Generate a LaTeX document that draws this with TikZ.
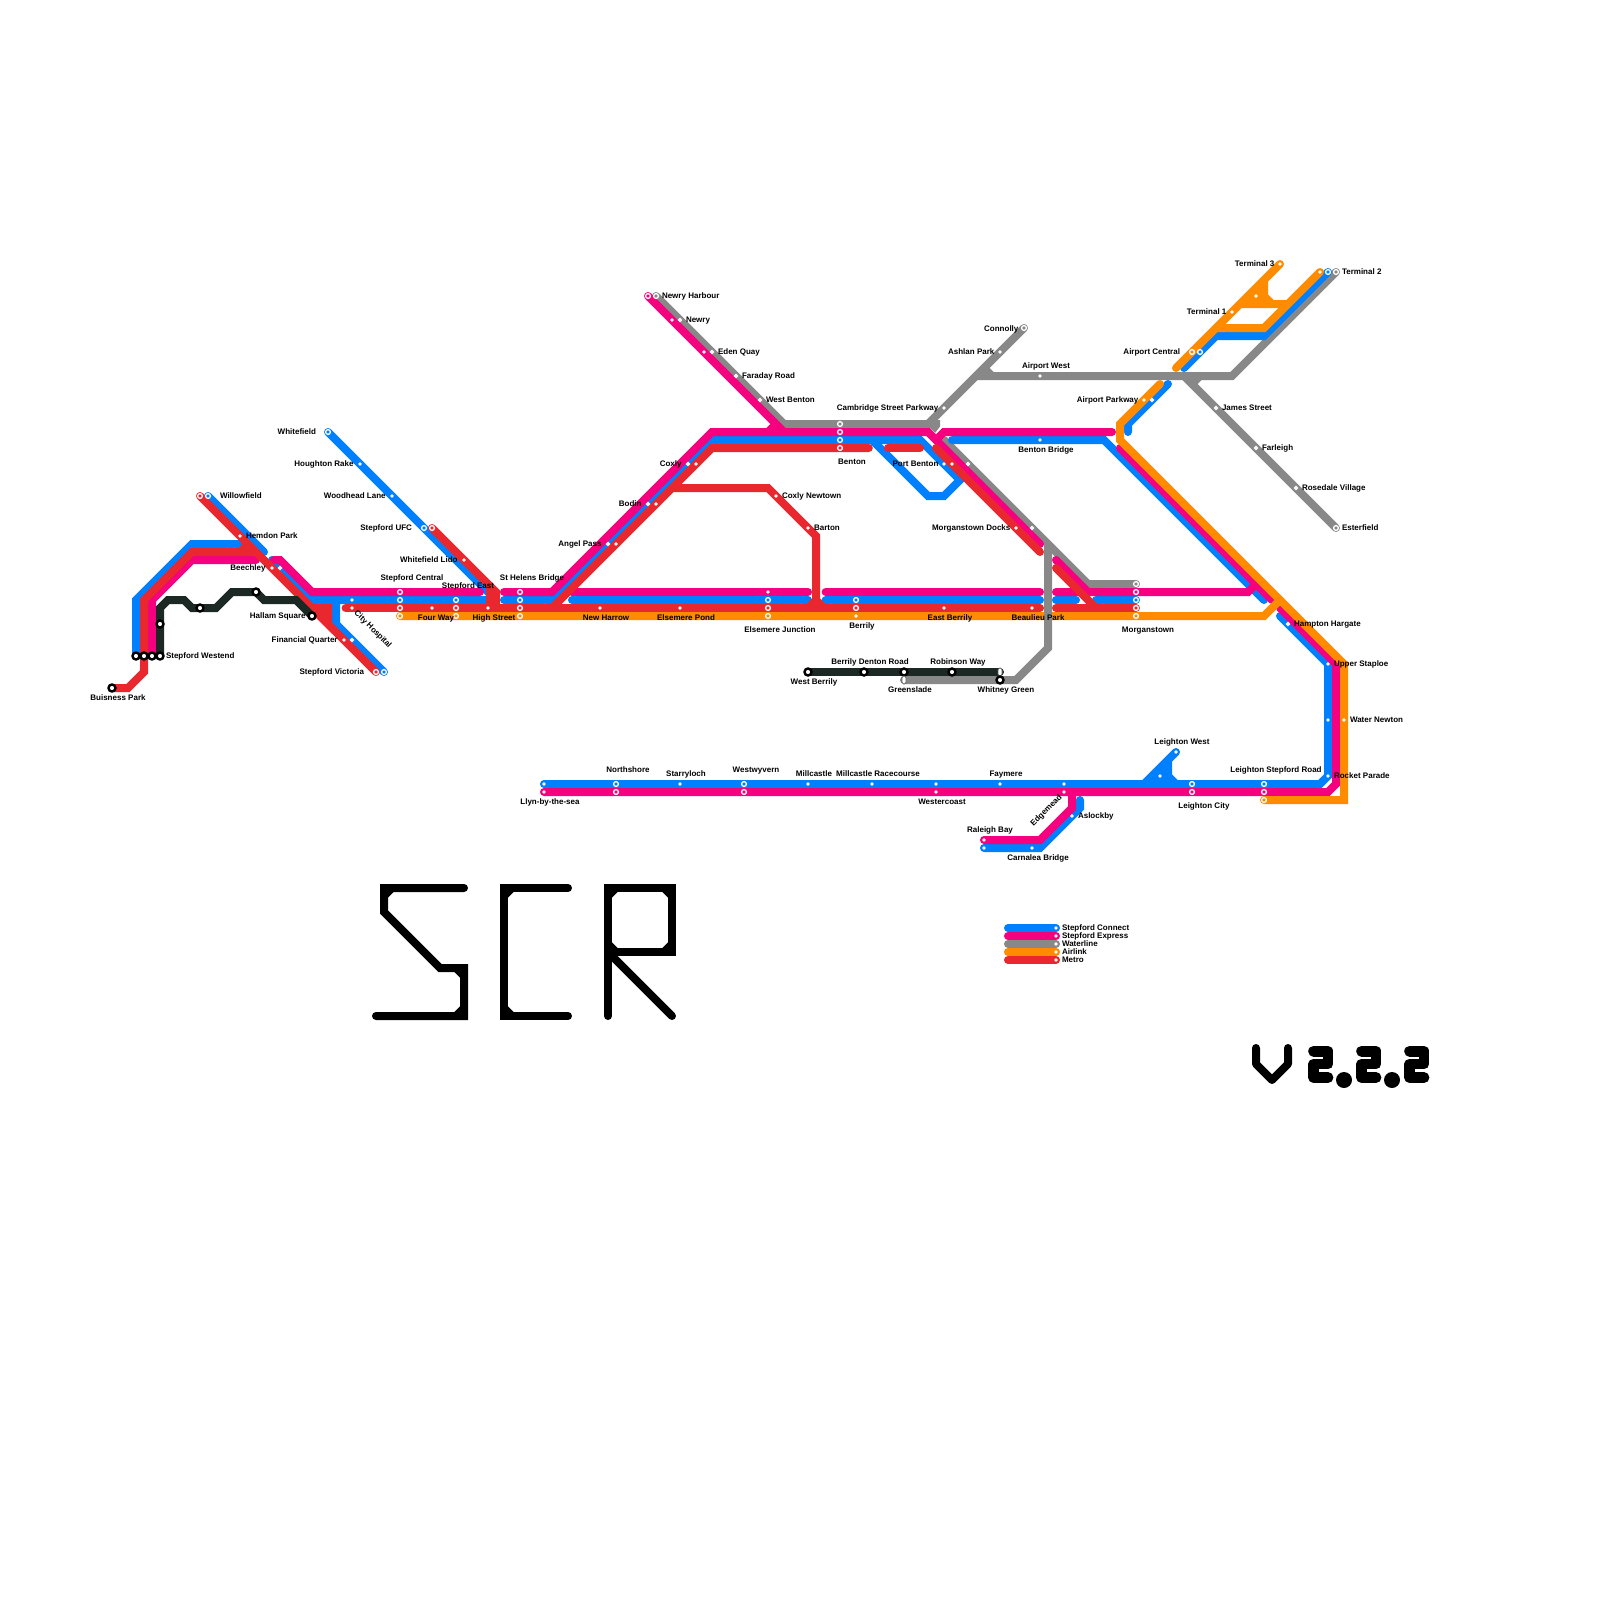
\documentclass[tikz,border=0pt]{standalone}
\usepackage{fontspec}
\setmainfont{Liberation Sans}
\usepackage{xcolor}
\usetikzlibrary{backgrounds}
\definecolor{connectblue}{RGB}{0, 128, 255}
\definecolor{expresspink}{RGB}{245, 0, 127}
\definecolor{watergray}{RGB}{136, 136, 136}
\definecolor{airorange}{RGB}{255, 140, 0}
\definecolor{metrored}{RGB}{232, 40, 46}
\definecolor{hallamdark}{RGB}{28, 40, 35}

\begin{document}
\begin{tikzpicture}[x=0.2cm, y=-0.2cm,
    railline/.style={line width=0.2cm, line cap=round},
    connectline/.style={railline, draw=connectblue},
    expressline/.style={railline, draw=expresspink},
    waterline/.style={railline, draw=watergray},
    airline/.style={railline, draw=airorange},
    metroline/.style={railline, draw=metrored},
    hallamline/.style={railline, draw=hallamdark},
    logoline/.style={line width=0.2cm, line cap=round, draw=black},
    stopdot/.style={circle, fill=white, inner sep=0, outer sep=0, minimum size=0.09cm},
    stopring/.style={circle, draw=white, line width=0.033cm, inner sep=0, outer sep=0, minimum size=0.12cm},
    smallring/.style={circle, draw=white, line width=0.03cm, inner sep=0, outer sep=0, minimum size=0.075cm},
    blackring/.style={circle, draw=black, fill=white, line width=0.06cm, inner sep=0, outer sep=0, minimum size=0.175cm},
    capsule/.style={rectangle, rounded corners=0.04cm, draw=black!65, fill=white, line width=0.02cm, inner sep=0, outer sep=0, minimum width=0.1cm, minimum height=0.2cm},
    stationlabel/.style={inner sep=0, outer sep=0, yshift=0.025cm, text=black, font=\fontsize{5.7}{6}\selectfont\bfseries, text height=1.5ex, text depth=0.3ex}]

\useasboundingbox (0,0) rectangle (200,200);

% stops on the west side
\node[blackring] (westb) at (17,82) {};
\node[blackring] (westr) at (18,82) {};
\node[blackring] (westp) at (19,82) {};
\node[blackring] (westk) at (20,82) {};
\node[blackring] (buisness) at (14,86) {};
\node[blackring] (darkup) at (20,78) {};
\node[blackring] (darkmid) at (25,76) {};
\node[blackring] (darktop) at (32,74) {};
\node[blackring] (hallam) at (39,77) {};
\node[stopring] (whitefield) at (41,54) {};
\node[stopdot] (houghton) at (45,58) {};
\node[stopdot] (woodhead) at (49,62) {};
\node[stopring] (willowr) at (25,62) {};
\node[stopring] (willowb) at (26,62) {};
\node[stopdot] (hemdon) at (30,67) {};
\node[stopdot] (beechleyr) at (34,71) {};
\node[smallring] (beechleyb) at (35,71) {};
\node[stopdot] (hospitalb) at (44,75) {};
\node[stopdot] (hospitalr) at (44,76) {};
\node[stopdot] (financialr) at (43,80) {};
\node[smallring] (financialb) at (44,80) {};
\node[stopring] (victoriar) at (47,84) {};
\node[stopring] (victoriab) at (48,84) {};
\node[stopring] (ufcb) at (53,66) {};
\node[stopring] (ufcr) at (54,66) {};
\node[stopdot] (lido) at (58,70) {};

% stops on the main corridor
\node[stopring] (centralp) at (50,74) {};
\node[stopring] (centralb) at (50,75) {};
\node[stopring] (centralr) at (50,76) {};
\node[stopring] (centrala) at (50,77) {};
\node[stopdot] (fourway) at (54,76) {};
\node[stopring] (eastb) at (57,75) {};
\node[stopring] (eastr) at (57,76) {};
\node[stopring] (easta) at (57,77) {};
\node[stopdot] (highst) at (61,76) {};
\node[stopring] (helensp) at (65,74) {};
\node[stopring] (helensb) at (65,75) {};
\node[stopring] (helensr) at (65,76) {};
\node[stopring] (helensa) at (65,77) {};
\node[stopdot] (harrow) at (75,76) {};
\node[stopdot] (pond) at (85,76) {};
\node[stopdot] (junctionp) at (96,74) {};
\node[stopring] (junctionb) at (96,75) {};
\node[stopring] (junctionr) at (96,76) {};
\node[stopring] (junctiona) at (96,77) {};
\node[stopring] (berrilyb) at (107,75) {};
\node[stopring] (berrilyr) at (107,76) {};
\node[stopdot] (berrilya) at (107,77) {};
\node[stopdot] (eastberrily) at (118,76) {};
\node[stopdot] (beaulieu) at (129,76) {};
\node[stopring] (morgang) at (142,73) {};
\node[stopring] (morganp) at (142,74) {};
\node[stopring] (morganb) at (142,75) {};
\node[stopring] (morganr) at (142,76) {};
\node[stopring] (morgana) at (142,77) {};

% stops on the diagonals and the north
\node[smallring] (angelb) at (76,68) {};
\node[stopdot] (angelr) at (77,68) {};
\node[smallring] (bodinb) at (81,63) {};
\node[stopdot] (bodinr) at (82,63) {};
\node[smallring] (coxlyb) at (86,58) {};
\node[stopdot] (coxlyr) at (87,58) {};
\node[stopdot] (newtown) at (97,62) {};
\node[stopdot] (barton) at (101,66) {};
\node[stopring] (harbourp) at (81,37) {};
\node[stopring] (harbourg) at (82,37) {};
\node[stopdot] (newryp) at (84,40) {};
\node[smallring] (newryg) at (85,40) {};
\node[stopdot] (edenp) at (88,44) {};
\node[smallring] (edeng) at (89,44) {};
\node[smallring] (faraday) at (92,47) {};
\node[smallring] (westbenton) at (95,50) {};
\node[stopring] (bentong) at (105,53) {};
\node[stopring] (bentonp) at (105,54) {};
\node[stopring] (bentonb) at (105,55) {};
\node[stopring] (bentonr) at (105,56) {};
\node[stopdot] (cambridge) at (118,51) {};
\node[stopdot] (ashlan) at (125,44) {};
\node[stopring] (connolly) at (128,41) {};
\node[stopdot] (airwest) at (130,47) {};
\node[stopdot] (bbridge) at (130,55) {};
\node[stopdot] (portb) at (118,58) {};
\node[stopdot] (portr) at (119,58) {};
\node[smallring] (portg) at (121,58) {};
\node[stopdot] (docksr) at (127,66) {};
\node[smallring] (docksg) at (129,66) {};
\node[stopdot] (parkwaya) at (143,50) {};
\node[smallring] (parkwayb) at (144,50) {};
\node[stopring] (centrala2) at (149,44) {};
\node[stopring] (centralb2) at (150,44) {};
\node[stopdot] (terminal1) at (154,39) {};
\node[stopdot] (apron) at (157,37) {};
\node[stopdot] (terminal3) at (160,33) {};
\node[stopdot] (terminal2a) at (165,34) {};
\node[stopring] (terminal2b) at (166,34) {};
\node[stopring] (terminal2g) at (167,34) {};
\node[smallring] (james) at (152,51) {};
\node[smallring] (farleigh) at (157,56) {};
\node[smallring] (rosedale) at (162,61) {};
\node[stopring] (esterfield) at (167,66) {};
\node[smallring] (hampton) at (161,78) {};
\node[stopdot] (upper) at (166,83) {};
\node[stopdot] (newtonb) at (166,90) {};
\node[stopdot] (newtona) at (168,90) {};
\node[stopdot] (rocket) at (166,97) {};

% stops on the Berrily shuttle
\node[blackring] (wberrily) at (101,84) {};
\node[blackring] (denton) at (108,84) {};
\node[blackring] (greenk) at (113,84) {};
\node[capsule] (greeng) at (113,85) {};
\node[blackring] (robinson) at (119,84) {};
\node[capsule] (whitneyk) at (125,84) {};
\node[blackring] (whitneyg) at (125,85) {};

% stops on the south line
\node[stopdot] (llynb) at (68,98) {};
\node[stopdot] (llynp) at (68,99) {};
\node[stopring] (northb) at (77,98) {};
\node[stopring] (northp) at (77,99) {};
\node[stopdot] (starry) at (85,98) {};
\node[stopring] (wyvernb) at (93,98) {};
\node[stopring] (wyvernp) at (93,99) {};
\node[stopdot] (millcastle) at (101,98) {};
\node[stopdot] (racecourse) at (109,98) {};
\node[stopdot] (coastb) at (117,98) {};
\node[stopdot] (coastp) at (117,99) {};
\node[stopdot] (faymere) at (125,98) {};
\node[stopdot] (edgeb) at (133,98) {};
\node[stopdot] (edgep) at (133,99) {};
\node[stopdot] (aslockby) at (134,102) {};
\node[stopdot] (raleighp) at (123,105) {};
\node[stopdot] (raleighb) at (123,106) {};
\node[stopdot] (carnalea) at (129,106) {};
\node[stopdot] (lwest) at (147,94) {};
\node[stopdot] (lfork) at (145,97) {};
\node[stopring] (lcityb) at (149,98) {};
\node[stopring] (lcityp) at (149,99) {};
\node[stopring] (lroadb) at (158,98) {};
\node[stopring] (lroadp) at (158,99) {};
\node[stopring] (lroada) at (158,100) {};

% key
\node[stopdot] (keyb) at (132,116) {};
\node[stopdot] (keyp) at (132,117) {};
\node[stopdot] (keyg) at (132,118) {};
\node[stopdot] (keya) at (132,119) {};
\node[stopdot] (keyr) at (132,120) {};
\coordinate (keyb0) at (126,116);
\coordinate (keyp0) at (126,117);
\coordinate (keyg0) at (126,118);
\coordinate (keya0) at (126,119);
\coordinate (keyr0) at (126,120);

% labels
\node[stationlabel, anchor=east] (twhitefield) at (39.5,53.9) {Whitefield};
\node[stationlabel, anchor=east] (thoughton) at (44.2,57.9) {Houghton Rake};
\node[stationlabel, anchor=east] (twoodhead) at (48.2,61.9) {Woodhead Lane};
\node[stationlabel, anchor=east] (tufc) at (51.5,65.9) {Stepford UFC};
\node[stationlabel, anchor=west] (twillow) at (27.5,61.9) {Willowfield};
\node[stationlabel, anchor=west] (themdon) at (30.75,66.9) {Hemdon Park};
\node[stationlabel, anchor=east] (tbeechley) at (33.2,70.9) {Beechley};
\node[stationlabel, anchor=west] (twest) at (20.75,81.9) {Stepford Westend};
\node[stationlabel] (tbuisness) at (14.75,87.1) {Buisness Park};
\node[stationlabel, anchor=east] (thallam) at (38.2,76.9) {Hallam Square};
\node[stationlabel, anchor=east] (tfinancial) at (42.2,79.9) {Financial Quarter};
\node[stationlabel, anchor=east] (tvictoria) at (45.5,83.9) {Stepford Victoria};
\node[stationlabel, rotate=-45] (thospital) at (46.8,78.6) {City Hospital};
\node[stationlabel] (tcentral) at (51.5,72.1) {Stepford Central};
\node[stationlabel] (teast) at (58.5,73.1) {Stepford East};
\node[stationlabel, anchor=east] (tlido) at (57.2,69.9) {Whitefield Lido};
\node[stationlabel] (tfourway) at (54.5,77.1) {Four Way};
\node[stationlabel] (thighst) at (61.75,77.1) {High Street};
\node[stationlabel] (thelens) at (66.5,72.1) {St Helens Bridge};
\node[stationlabel] (tharrow) at (75.75,77.1) {New Harrow};
\node[stationlabel, anchor=east] (tangel) at (75.2,67.9) {Angel Pass};
\node[stationlabel, anchor=east] (tbodin) at (80.2,62.9) {Bodin};
\node[stationlabel, anchor=east] (tcoxly) at (85.2,57.9) {Coxly};
\node[stationlabel, anchor=west] (tnewtown) at (97.75,61.9) {Coxly Newtown};
\node[stationlabel, anchor=west] (tbarton) at (101.75,65.9) {Barton};
\node[stationlabel, anchor=west] (tharbour) at (82.75,36.9) {Newry Harbour};
\node[stationlabel, anchor=west] (tnewry) at (85.75,39.9) {Newry};
\node[stationlabel, anchor=west] (teden) at (89.75,43.9) {Eden Quay};
\node[stationlabel, anchor=west] (tfaraday) at (92.75,46.9) {Faraday Road};
\node[stationlabel, anchor=west] (twestbenton) at (95.75,49.9) {West Benton};
\node[stationlabel, anchor=east] (tcambridge) at (117.3,50.9) {Cambridge Street Parkway};
\node[stationlabel] (tbenton) at (106.5,57.6) {Benton};
\node[stationlabel, anchor=east] (tport) at (117.3,57.9) {Port Benton};
\node[stationlabel, anchor=east] (tdocks) at (126.3,65.9) {Morganstown Docks};
\node[stationlabel] (tpond) at (85.75,77.1) {Elsemere Pond};
\node[stationlabel] (tjunction) at (97.5,78.6) {Elsemere Junction};
\node[stationlabel] (tberrily) at (107.75,78.1) {Berrily};
\node[stationlabel] (teastberrily) at (118.75,77.1) {East Berrily};
\node[stationlabel] (tbeaulieu) at (129.75,77.1) {Beaulieu Park};
\node[stationlabel] (tbbridge) at (130.75,56.1) {Benton Bridge};
\node[stationlabel] (tmorgan) at (143.5,78.6) {Morganstown};
\node[stationlabel] (trobinson) at (119.75,82.6) {Robinson Way};
\node[stationlabel] (twhitney) at (125.75,86.1) {Whitney Green};
\node[stationlabel] (tgreen) at (113.75,86.1) {Greenslade};
\node[stationlabel] (tdenton) at (108.75,82.6) {Berrily Denton Road};
\node[stationlabel] (twberrily) at (101.75,85.1) {West Berrily};
\node[stationlabel, anchor=east] (tterminal3) at (159.3,32.9) {Terminal 3};
\node[stationlabel, anchor=west] (tterminal2) at (167.75,33.9) {Terminal 2};
\node[stationlabel, anchor=east] (tterminal1) at (153.3,38.9) {Terminal 1};
\node[stationlabel, anchor=east] (tcentral2) at (147.5,43.9) {Airport Central};
\node[stationlabel, anchor=east] (tparkway) at (142.3,49.9) {Airport Parkway};
\node[stationlabel, anchor=east] (tconnolly) at (127.3,41) {Connolly};
\node[stationlabel, anchor=east] (tashlan) at (124.3,43.9) {Ashlan Park};
\node[stationlabel] (tairwest) at (130.75,45.6) {Airport West};
\node[stationlabel, anchor=west] (tjames) at (152.75,50.9) {James Street};
\node[stationlabel, anchor=west] (tfarleigh) at (157.75,55.9) {Farleigh};
\node[stationlabel, anchor=west] (trosedale) at (162.75,60.9) {Rosedale Village};
\node[stationlabel, anchor=west] (testerfield) at (167.75,65.9) {Esterfield};
\node[stationlabel, anchor=west] (thampton) at (161.75,77.9) {Hampton Hargate};
\node[stationlabel, anchor=west] (tupper) at (166.75,82.9) {Upper Staploe};
\node[stationlabel, anchor=west] (twater) at (168.75,89.9) {Water Newton};
\node[stationlabel, anchor=west] (trocket) at (166.75,96.9) {Rocket Parade};
\node[stationlabel] (tlwest) at (147.75,92.6) {Leighton West};
\node[stationlabel] (tlroad) at (159.5,96.1) {Leighton Stepford Road};
\node[stationlabel] (tlcity) at (150.5,100.6) {Leighton City};
\node[stationlabel] (tfaymere) at (125.75,96.6) {Faymere};
\node[stationlabel, rotate=45] (tedge) at (130.6,101.25) {Edgemead};
\node[stationlabel, anchor=west] (taslockby) at (134.75,101.9) {Aslockby};
\node[stationlabel] (traleigh) at (123.75,103.6) {Raleigh Bay};
\node[stationlabel] (tcarnalea) at (129.75,107.1) {Carnalea Bridge};
\node[stationlabel] (tnorth) at (78.5,96.1) {Northshore};
\node[stationlabel] (tstarry) at (85.75,96.6) {Starryloch};
\node[stationlabel] (twyvern) at (94.5,96.1) {Westwyvern};
\node[stationlabel] (tmillcastle) at (101.75,96.6) {Millcastle};
\node[stationlabel] (trace) at (109.75,96.6) {Millcastle Racecourse};
\node[stationlabel] (tcoast) at (117.75,100.1) {Westercoast};
\node[stationlabel] (tllyn) at (68.75,100.1) {Llyn-by-the-sea};
\node[stationlabel, anchor=west] (tkeyb) at (132.75,115.9) {Stepford Connect};
\node[stationlabel, anchor=west] (tkeyp) at (132.75,116.9) {Stepford Express};
\node[stationlabel, anchor=west] (tkeyg) at (132.75,117.9) {Waterline};
\node[stationlabel, anchor=west] (tkeya) at (132.75,118.9) {Airlink};
\node[stationlabel, anchor=west] (tkeyr) at (132.75,119.9) {Metro};

\begin{scope}[on background layer]
% Waterline
\draw[waterline] (harbourg.center) -- (98,53) -- (116,53) -- (connolly.center);
\draw[waterline] (122,47) -- (154,47) -- (terminal2g.center);
\draw[waterline] (148,47) -- (esterfield.center);
\draw[waterline] (123,46) -- (124,47);
\draw[waterline] (150,47) -- (149,48);
\draw[waterline] (118,55) -- (136,73) -- (morgang.center);

% Stepford Connect
\draw[connectline] (westb.center) -- (17,75) -- (24,68) -- (32,68);
\draw[connectline] (willowb.center) -- (33,69);
\draw[connectline] (34,70) -- (39,75) -- (61,75);
\draw[connectline] (42,75) -- (42,78) -- (victoriab.center);
\draw[connectline] (whitefield.center) -- (62,75);
\draw[connectline] (63,75) -- (69,75) -- (89,55) -- (115,55) -- (120,60);
\draw[connectline] (71.5,75) -- (101,75);
\draw[connectline] (103.2,75) -- (130,75);
\draw[connectline] (132,75) -- (134.5,75);
\draw[connectline] (137,75) -- (morganb.center);
\draw[connectline] (109,55) -- (116,62) -- (118,62) -- (121,59);
\draw[connectline] (119,55) -- (138,55) -- (158,75);
\draw[connectline] (160,77) -- (upper.center) -- (rocket.center) -- (165,98) -- (llynb.center);
\draw[connectline, fill=connectblue, line join=round] (143,98) -- (lwest.center) -- (146,95) -- (146,97) -- (147,98) -- cycle;
\draw[connectline] (146,48) -- (141,53) -- (141,54);
\draw[connectline] (148,46) -- (152,42) -- (158,42) -- (terminal2b.center);
\draw[connectline] (raleighb.center) -- (130,106) -- (135,101) -- (135,100);
\draw[connectline] (keyb0) -- (keyb.center);

% Stepford Express
\draw[expressline] (westp.center) -- (19,75) -- (24,70) -- (32,70);
\draw[expressline] (34.25,70) -- (35,70) -- (39,74) -- (60,74);
\draw[expressline] (63,74) -- (69,74) -- (89,54) -- (116,54) -- (130,68);
\draw[expressline] (71.5,74) -- (101,74);
\draw[expressline] (103.2,74) -- (130,74);
\draw[expressline] (132,74) -- (156,74) -- (157,73);
\draw[expressline] (132,70) -- (136,74);
\draw[expressline] (117,55) -- (118,54) -- (139,54);
\draw[expressline] (140,56) -- (159,75);
\draw[expressline] (160,76) -- (167,83) -- (167,98) -- (166,99) -- (llynp.center);
\draw[expressline] (raleighp.center) -- (130,105) -- (134,101) -- (134,99);
\draw[expressline] (harbourp.center) -- (98,54);
\draw[expressline] (96,54) -- (97,53);
\draw[expressline] (keyp0) -- (keyp.center);
\draw[waterline] (keyg0) -- (keyg.center);
\fill[watergray] (115.8,52.5) -- (117.5,52.5) -- (117.5,53.3) -- (116.9,54.1) -- (116,53.3) -- cycle;

% Airlink
\draw[airline] (centrala.center) -- (158,77) -- (160,75);
\draw[airline] (145,48) -- (140,53) -- (140,55) -- (168,83) -- (168,100) -- (lroada.center);
\draw[airline] (147,46) -- (terminal3.center);
\draw[airline] (152,41) -- (158,41) -- (terminal2a.center);
\draw[airline] (155,38) -- (161,38);
\draw[airline, fill=airorange] (156,38) -- (158,36) -- (158,37) -- (159,38) -- cycle;
\draw[airline] (keya0) -- (keya.center);

% Metro
\draw[metroline] (buisness.center) -- (16,86) -- (18,84) -- (18,75) -- (24,69) -- (32,69);
\draw[metroline] (30,69) -- (31,68);
\draw[metroline] (willowr.center) -- (victoriar.center);
\draw[metroline, fill=metrored] (39,76) -- (41,76) -- (41,78) -- cycle;
\draw[metroline] (43.2,76) -- (130,76);
\draw[metroline] (ufcr.center) -- (62,74) -- (62,76);
\draw[metroline] (61.3,73.3) -- (61.3,76);
\draw[metroline] (132,76) -- (morganr.center);
\draw[metroline] (69,76) -- (89,56) -- (108.6,56);
\draw[metroline] (111,56) -- (115,56);
\draw[metroline] (117,56) -- (130,69);
\draw[metroline] (132,71) -- (137,76);
\draw[metroline] (84,61) -- (96,61) -- (102,67) -- (102,76);
\draw[metroline] (101,76) -- (102,75) -- (103,76);
\draw[metroline] (keyr0) -- (keyr.center);

% Waterline branch and the dark shuttle go over the others
\draw[waterline] (131,68) -- (131,81) -- (127,85) -- (greeng.center);
\draw[hallamline] (westk.center) -- (20,76) -- (21,75) -- (23,75) -- (24,76) -- (27,76) -- (29,74) -- (32,74) -- (33,75) -- (37,75) -- (hallam.center);
\draw[hallamline] (wberrily.center) -- (whitneyk.center);
\end{scope}

% SCR
\draw[logoline] (58,111) -- (48,111) -- (48,114) -- (55,121) -- (58,121) -- (58,127) -- (47,127);
\draw[logoline] (49,111) -- (48,112);
\draw[logoline] (57,121) -- (58,122);
\draw[logoline] (58,126) -- (57,127);
\draw[logoline] (71,111) -- (63,111) -- (63,127) -- (71,127);
\draw[logoline] (64,111) -- (63,112);
\draw[logoline] (63,126) -- (64,127);
\draw[logoline] (76,127) -- (76,111) -- (84,111) -- (84,119) -- (76,119);
\draw[logoline] (76,119) -- (84,127);
\draw[logoline] (77,111) -- (76,112);
\draw[logoline] (83,111) -- (84,112);
\draw[logoline] (84,118) -- (83,119);
\draw[logoline] (77,119) -- (76,118);
\draw[logoline] (76,120) -- (77,119);

% version
\draw[logoline, line join=round] (157,131) -- (157,133) -- (159,135) -- (161,133) -- (161,131);
\draw[logoline, line width=0.27cm, line join=round] (164.2,131.4) -- (166,131.4) -- (166,133) -- (164.2,133) -- (164.2,134.7) -- (166,134.7);
\draw[logoline, line width=0.27cm, line join=round] (170.2,131.4) -- (172,131.4) -- (172,133) -- (170.2,133) -- (170.2,134.7) -- (172,134.7);
\draw[logoline, line width=0.27cm, line join=round] (176.2,131.4) -- (178,131.4) -- (178,133) -- (176.2,133) -- (176.2,134.7) -- (178,134.7);
\fill (168,135) circle (1);
\fill (174,135) circle (1);
\end{tikzpicture}
\end{document}
